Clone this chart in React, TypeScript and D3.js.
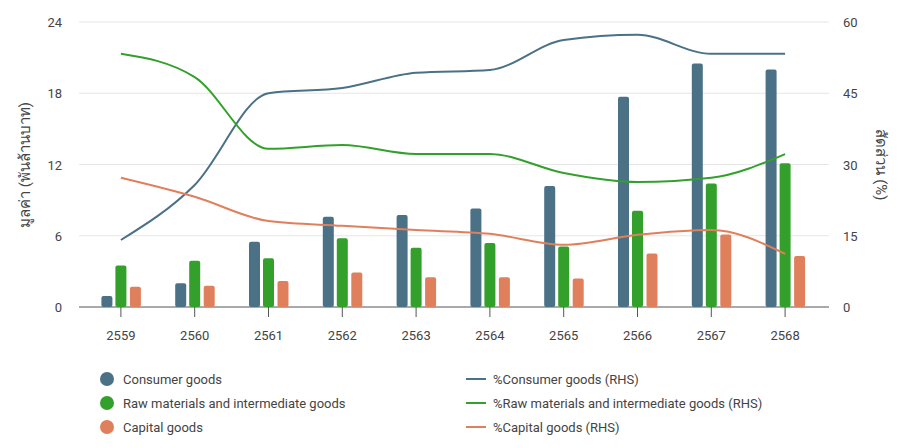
import React from "react";
import * as d3 from "d3";

const years = ["2559","2560","2561","2562","2563","2564","2565","2566","2567","2568"];
const consumer = [0.93,2.0,5.5,7.6,7.75,8.3,10.2,17.7,20.5,20.0];
const raw = [3.5,3.9,4.1,5.8,5.0,5.4,5.1,8.1,10.4,12.1];
const capital = [1.7,1.8,2.2,2.9,2.5,2.5,2.4,4.5,6.1,4.3];
const consumerPct = [14.1,25.7,45.0,46.1,49.3,49.9,56.2,57.3,53.3,53.3];
const rawPct = [53.3,48.4,33.3,34.1,32.2,32.2,28.2,26.3,27.2,32.2];
const capitalPct = [27.2,23.2,18.1,17.1,16.2,15.4,13.1,15.2,16.2,11.2];
const leftTicks = [0,6,12,18,24];
const rightTicks = [0,15,30,45,60];

const C = { blue: "#4a7186", green: "#33a02c", orange: "#e07f5c" };
const font = "Roboto, 'Noto Sans', sans-serif";

export default function App() {
  const W = 908, H = 448;
  const x = d3.scaleBand().domain(years).range([84, 822]);
  const yL = d3.scaleLinear().domain([0, 24]).range([307, 22]);
  const yR = d3.scaleLinear().domain([0, 60]).range([307, 22]);
  const bw = 11;
  const series = [
    { v: consumer, c: C.blue, off: -14 },
    { v: raw, c: C.green, off: 0 },
    { v: capital, c: C.orange, off: 14.5 },
  ];
  const cx = (y: string) => x(y)! + x.bandwidth() / 2;
  const line = (vals: number[]) =>
    d3.line<number>().x((_, i) => cx(years[i])).y(d => yR(d)).curve(d3.curveMonotoneX)(vals)!;
  const lines = [
    { v: consumerPct, c: C.blue },
    { v: rawPct, c: C.green },
    { v: capitalPct, c: C.orange },
  ];
  const legL = [["Consumer goods", C.blue], ["Raw materials and intermediate goods", C.green], ["Capital goods", C.orange]];
  const legR = [["%Consumer goods (RHS)", C.blue], ["%Raw materials and intermediate goods (RHS)", C.green], ["%Capital goods (RHS)", C.orange]];
  return (
    <svg width={W} height={H} style={{ position: "absolute", left: 0, top: 0, background: "#fff" }} fontFamily={font}>
      {leftTicks.map(t => (
        <g key={t}>
          {t > 0 && <line x1={79} x2={829} y1={yL(t)} y2={yL(t)} stroke="#e6e6e6" />}
          <text x={62} y={yL(t) + 5} textAnchor="end" fontSize={13} fill="#444">{t}</text>
        </g>
      ))}
      {rightTicks.map(t => (
        <text key={t} x={843} y={yR(t) + 5} fontSize={13} fill="#444">{t}</text>
      ))}
      <line x1={79} x2={829} y1={307} y2={307} stroke="#555" />
      {years.map(y => (
        <g key={y}>
          <line x1={cx(y)} x2={cx(y)} y1={307} y2={317} stroke="#555" />
          <text x={cx(y)} y={340} textAnchor="middle" fontSize={13} fill="#444">{y}</text>
        </g>
      ))}
      {series.map((s, si) => s.v.map((v, i) => (
        <rect key={si + "-" + i} x={cx(years[i]) + s.off - bw / 2} y={yL(v)} width={bw} height={yL(0) - yL(v)} rx={2} fill={s.c} />
      )))}
      {lines.map((l, i) => (
        <path key={i} d={line(l.v)} fill="none" stroke={l.c} strokeWidth={2} />
      ))}
      <text transform="translate(30,165) rotate(-90)" textAnchor="middle" fontSize={15} fill="#444">มูลค่า (พันล้านบาท)</text>
      <text transform="translate(876,165) rotate(90)" textAnchor="middle" fontSize={15} fill="#444">สัดส่วน (%)</text>
      {legL.map(([t, c], i) => (
        <g key={t}>
          <circle cx={107} cy={379 + i * 24} r={7} fill={c} />
          <text x={123} y={384 + i * 24} fontSize={13} fill="#444">{t}</text>
        </g>
      ))}
      {legR.map(([t, c], i) => (
        <g key={t}>
          <line x1={466} x2={486} y1={379 + i * 24} y2={379 + i * 24} stroke={c} strokeWidth={2} />
          <text x={493} y={384 + i * 24} fontSize={13} fill="#444">{t}</text>
        </g>
      ))}
    </svg>
  );
}
